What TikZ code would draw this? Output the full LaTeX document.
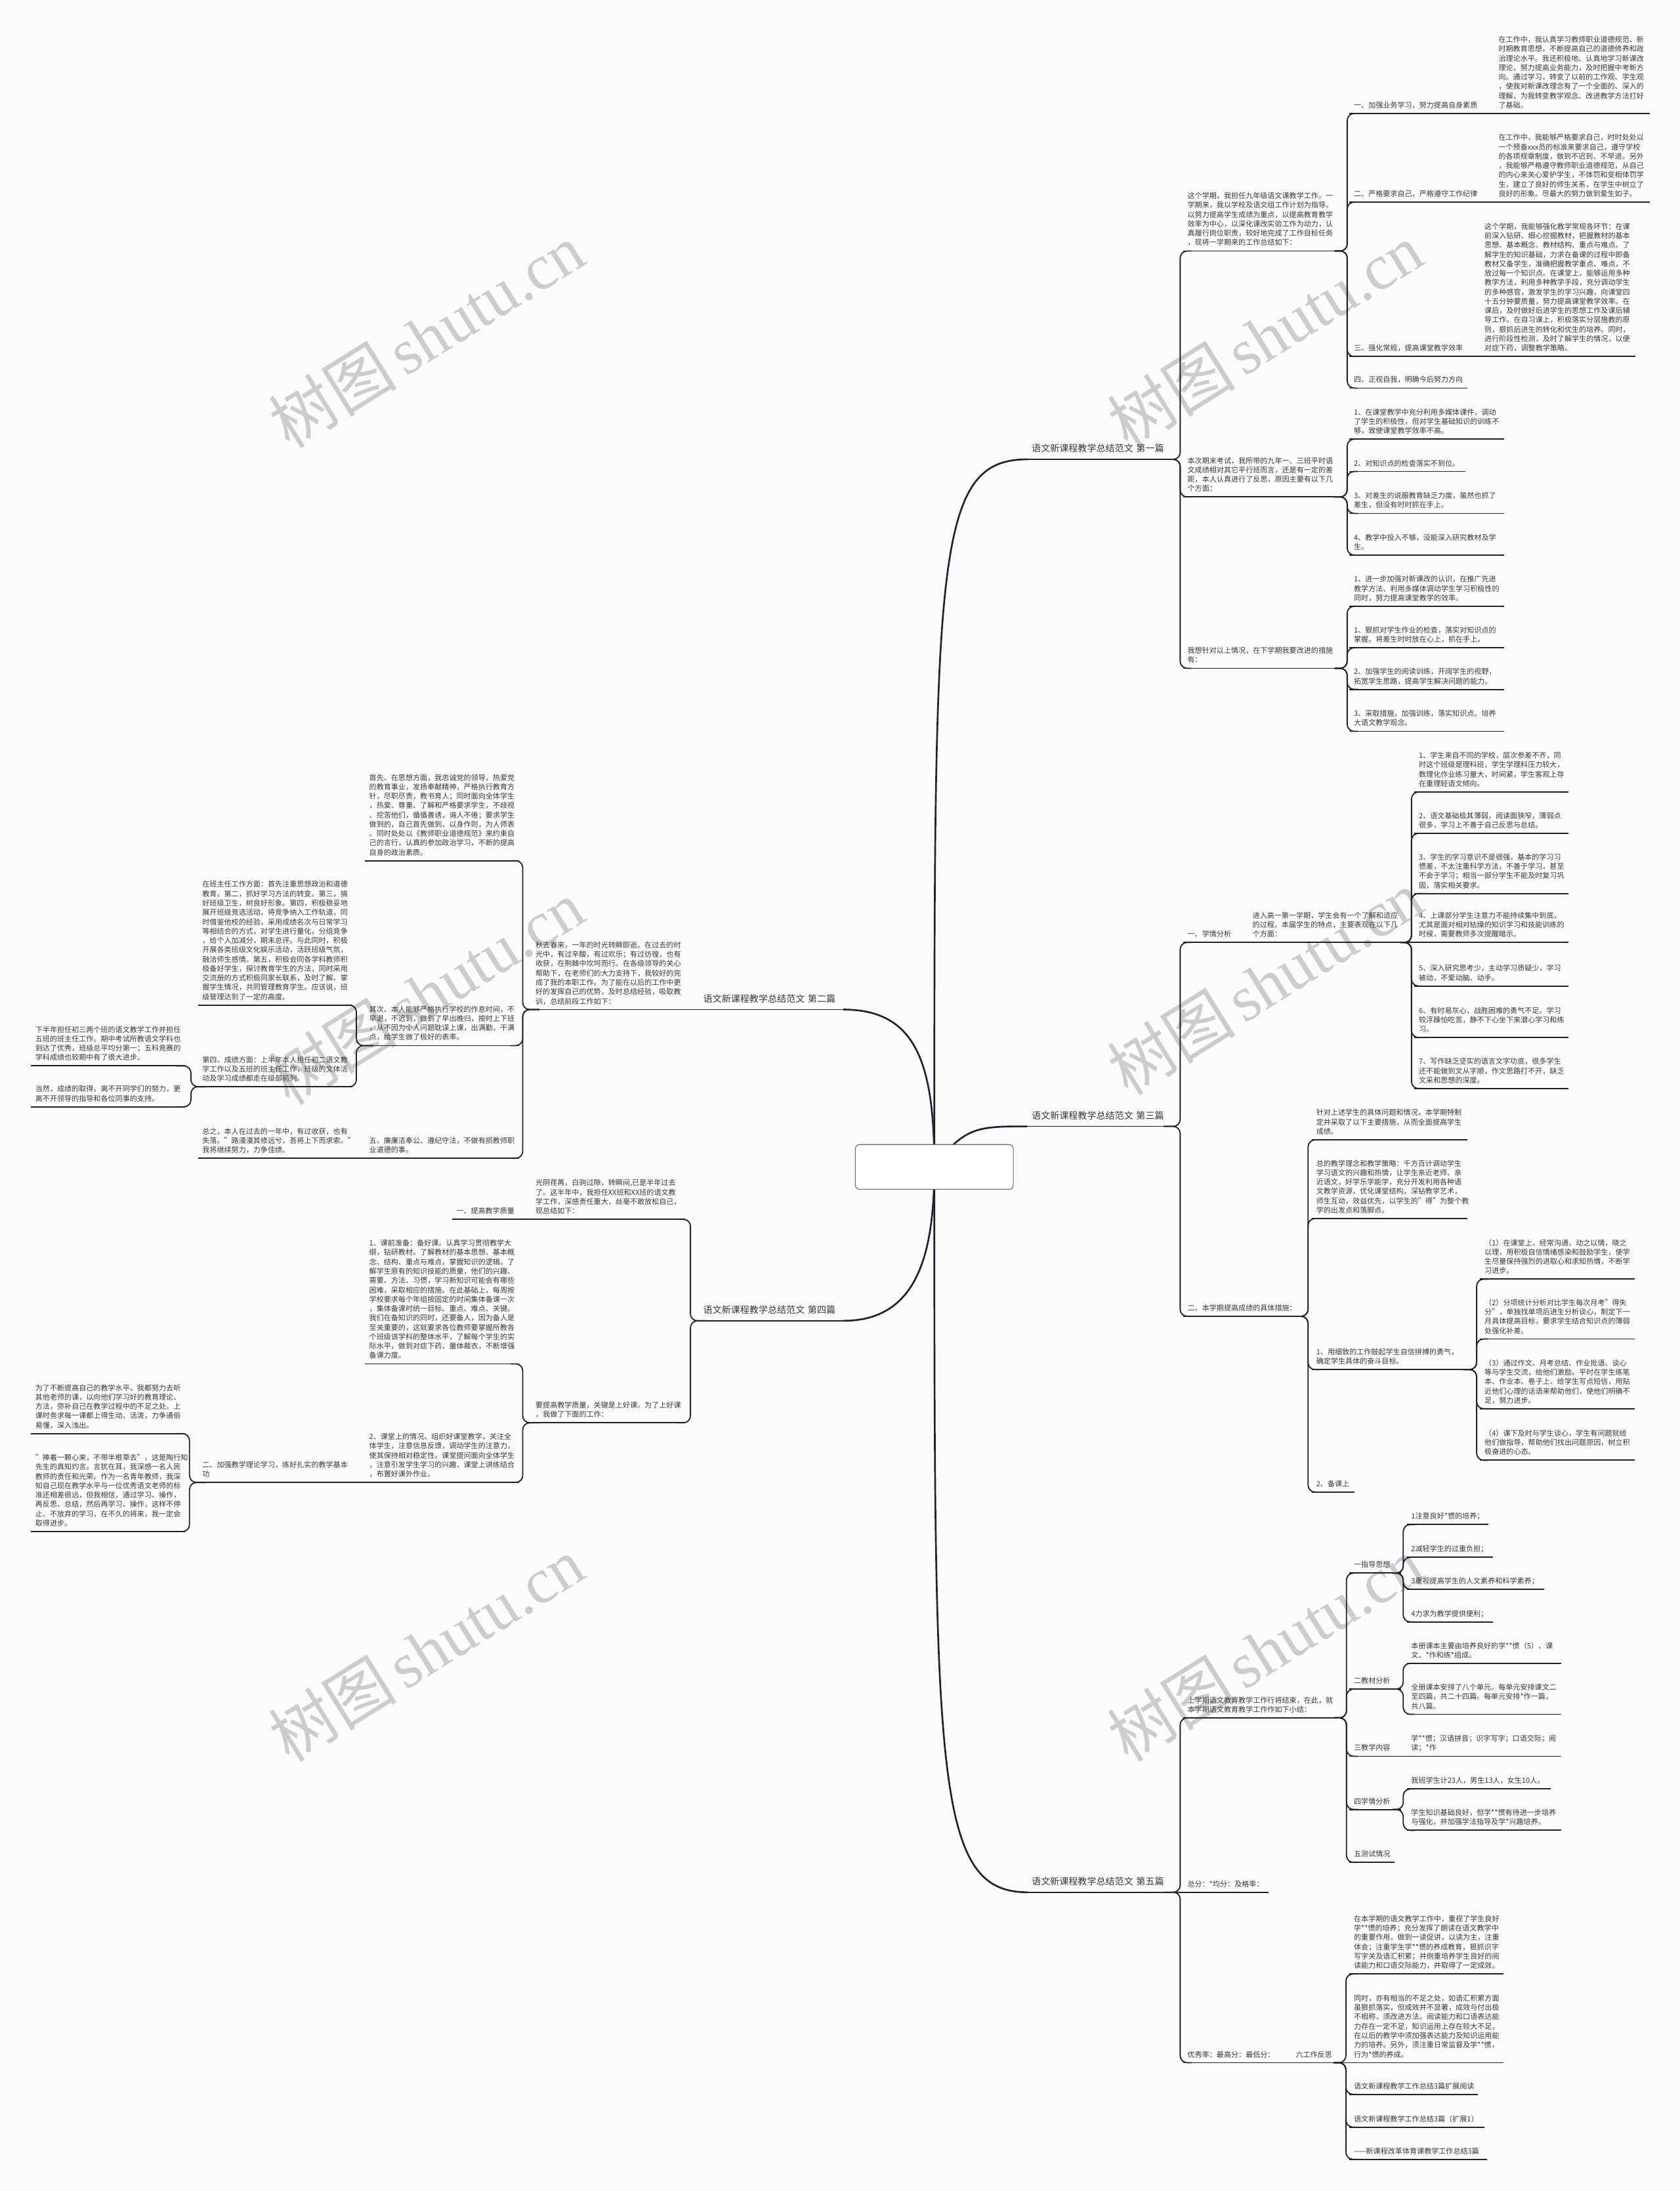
\documentclass[tikz,border=0pt]{standalone}
\usepackage{fontspec}
\setmainfont{Noto Sans CJK SC}
\newfontfamily\wmser{Liberation Serif}
\definecolor{bg}{HTML}{FCFAFA}
\definecolor{lc}{HTML}{1B2230}
\definecolor{tc}{HTML}{383838}
\newcommand\bodyfont{\fontsize{5.2pt}{6.7pt}\selectfont}
\newcommand\lblfont{\fontsize{6.6pt}{7.6pt}\selectfont}
\newcommand\rconn[3]{\draw[conn] ([xshift=-6pt]#1.south east) -- ([xshift=#3]#1.south east) |- ([xshift=6pt]#2.south west);}
\newcommand\lconn[3]{\draw[conn] ([xshift=6pt]#1.south west) -- ([xshift=-#3]#1.south west) |- ([xshift=-6pt]#2.south east);}
\newcommand\rstr[2]{\draw[sline] (#1.south east) -- (#2.south west);}
\newcommand\lstr[2]{\draw[sline] (#1.south west) -- (#2.south east);}
\tikzset{
 conn/.style={draw=lc, line width=0.85pt, rounded corners=5pt},
 sline/.style={draw=lc, line width=0.85pt},
 mconn/.style={draw=lc, line width=1.25pt},
 ulst/.style={draw=lc, line width=0.85pt},
 tx/.style={anchor=south west, inner xsep=3pt, inner ysep=2.5pt, text width=#1 pt, align=left, font=\bodyfont, text=tc,
   execute at end node={\vrule width 0pt depth 1.3pt},
   append after command={(\tikzlastnode.south west) edge[ulst] (\tikzlastnode.south east)}},
 lbl/.style={tx=#1, font=\lblfont, inner ysep=3.8pt},
 wmk/.style={rotate=32, text=black!20, font=\fontsize{46pt}{46pt}\selectfont, inner sep=0pt},
}
\begin{document}
\begin{tikzpicture}[x=1pt,y=-1pt]
\useasboundingbox (0,0) rectangle (1202,1567.8);
\fill[bg] (0,0) rectangle (1202,1567.8);
% watermarks
\foreach \p in {(305,240),(905,240),(305,710),(905,703),(305,1180),(905,1180)}
  \node[wmk] at \p {树图\hspace{6pt}{\wmser shutu.cn}};

% ===== main labels =====
\node[lbl=97] (L1) at (735,328.7) {语文新课程教学总结范文 第一篇};
\node[lbl=97] (L3) at (735,806) {语文新课程教学总结范文 第三篇};
\node[lbl=97] (L5) at (735,1354) {语文新课程教学总结范文 第五篇};
\node[lbl=97] (L2) at (500,722.4) {语文新课程教学总结范文 第二篇};
\node[lbl=97] (L4) at (500,945.1) {语文新课程教学总结范文 第四篇};

% ===== section 1 =====
\node[tx=108] (A) at (846.5,179.6) {这个学期，我担任九年级语文课教学工作。一\\学期来，我以学校及语文组工作计划为指导。\\以努力提高学生成绩为重点，以提高教育教学\\效率为中心，以深化课改实验工作为动力，认\\真履行岗位职责，较好地完成了工作目标任务\\，现将一学期来的工作总结如下：};
\node[tx=108] (B) at (846.5,355.6) {本次期末考试，我所带的九年一、三班平时语\\文成绩相对其它平行班而言，还是有一定的差\\距，本人认真进行了反思，原因主要有以下几\\个方面：};
\node[tx=108] (C) at (846.5,478.2) {我想针对以上情况，在下学期我要改进的措施\\有：};
\node[tx=94] (A1) at (965.5,81.2) {一、加强业务学习，努力提高自身素质};
\node[tx=105] (A1c) at (1069,81.2) {在工作中，我认真学习教师职业道德规范、新\\时期教育思想，不断提高自己的道德修养和政\\治理论水平。我还积极地、认真地学习新课改\\理论，努力提高业务能力，及时把握中考新方\\向。通过学习，转变了以前的工作观、学生观\\，使我对新课改理念有了一个全面的、深入的\\理解，为我转变教学观念、改进教学方法打好\\了基础。};
\node[tx=94] (A2) at (965.5,144.6) {二、严格要求自己，严格遵守工作纪律};
\node[tx=105] (A2c) at (1069,144.6) {在工作中，我能够严格要求自己，时时处处以\\一个预备xxx员的标准来要求自己，遵守学校\\的各项规章制度，做到不迟到、不早退。另外\\，我能够严格遵守教师职业道德规范，从自己\\的内心来关心爱护学生，不体罚和变相体罚学\\生，建立了良好的师生关系，在学生中树立了\\良好的形象。尽最大的努力做到爱生如子。};
\node[tx=84] (A3) at (965.5,255.1) {三、强化常规，提高课堂教学效率};
\node[tx=104.5] (A3c) at (1059,255.1) {这个学期，我能够强化教学常规各环节：在课\\前深入钻研、细心挖掘教材，把握教材的基本\\思想、基本概念、教材结构、重点与难点。了\\解学生的知识基础，力求在备课的过程中即备\\教材又备学生，准确把握教学重点、难点，不\\放过每一个知识点。在课堂上，能够运用多种\\教学方法，利用多种教学手段，充分调动学生\\的多种感官，激发学生的学习兴趣，向课堂四\\十五分钟要质量，努力提高课堂教学效率。在\\课后，及时做好后进学生的思想工作及课后辅\\导工作。在自习课上，积极落实分层施教的原\\则，狠抓后进生的转化和优生的培养。同时，\\进行阶段性检测，及时了解学生的情况，以便\\对症下药，调整教学策略。};
\node[tx=78] (A4) at (965.5,277.7) {四、正视自我，明确今后努力方向};
\node[tx=104.5] (B1) at (965.5,314.2) {1、在课堂教学中充分利用多媒体课件，调动\\了学生的积极性，但对学生基础知识的训练不\\够，致使课堂教学效率不高。};
\node[tx=76.5] (B2) at (965.5,337.4) {2、对知识点的检查落实不到位。};
\node[tx=104.5] (B3) at (965.5,367.4) {3、对差生的说服教育缺乏力度，虽然也抓了\\差生，但没有时时抓在手上。};
\node[tx=104.5] (B4) at (965.5,397.2) {4、教学中投入不够，没能深入研究教材及学\\生。};
\node[tx=104.5] (C1) at (965.5,433.8) {1、进一步加强对新课改的认识，在推广先进\\教学方法、利用多媒体调动学生学习积极性的\\同时，努力提高课堂教学的效率。};
\node[tx=104.5] (C2) at (965.5,463.5) {1、狠抓对学生作业的检查，落实对知识点的\\掌握。将差生时时放在心上，抓在手上。};
\node[tx=104.5] (C3) at (965.5,493.3) {2、加强学生的阅读训练，开阔学生的视野，\\拓宽学生思路，提高学生解决问题的能力。};
\node[tx=104.5] (C4) at (965.5,523.3) {3、采取措施，加强训练，落实知识点。培养\\大语文教学观念。};

% ===== section 3 =====
\node[tx=37.5] (S3a) at (846.5,674.4) {一、学情分析};
\node[tx=108.5] (S3ac) at (893,674.4) {进入高一第一学期，学生会有一个了解和适应\\的过程，本届学生的特点，主要表现在以下几\\个方面：};
\node[tx=104] (I1) at (1012,566.7) {1、学生来自不同的学校，层次参差不齐，同\\时这个班级是理科班，学生学理科压力较大，\\数理化作业练习量大，时间紧，学生客观上存\\在重理轻语文倾向。};
\node[tx=104] (I2) at (1012,596.3) {2、语文基础极其薄弱，阅读面狭窄，薄弱点\\很多，学习上不善于自己反思与总结。};
\node[tx=104] (I3) at (1012,639.4) {3、学生的学习意识不是很强，基本的学习习\\惯差，不太注重科学方法，不善于学习，甚至\\不会于学习；相当一部分学生不能及时复习巩\\固，落实相关要求。};
\node[tx=104] (I4) at (1012,674.4) {4、上课部分学生注意力不能持续集中到底，\\尤其是面对相对枯燥的知识学习和技能训练的\\时候，需要教师多次提醒暗示。};
\node[tx=104] (I5) at (1012,705.6) {5、深入研究思考少，主动学习质疑少，学习\\被动，不爱动脑、动手。};
\node[tx=104] (I6) at (1012,742.4) {6、有时易灰心，战胜困难的勇气不足。学习\\较浮躁怕吃苦，静不下心坐下来潜心学习和练\\习。};
\node[tx=104] (I7) at (1012,778.9) {7、写作缺乏坚实的语言文字功底，很多学生\\还不能做到文从字顺，作文思路打不开，缺乏\\文采和思想的深度。};
\node[tx=80] (S3b) at (846.5,941.9) {二、本学期提高成绩的具体措施：};
\node[tx=105] (S3b1) at (938.6,815.6) {针对上述学生的具体问题和情况，本学期特制\\定并采取了以下主要措施，从而全面提高学生\\成绩。};
\node[tx=105] (S3b2) at (938.6,871.9) {总的教学理念和教学策略：千方百计调动学生\\学习语文的兴趣和热情，让学生亲近老师、亲\\近语文，好学乐学能学，充分开发利用各种语\\文教学资源，优化课堂结构，深钻教学艺术，\\师生互动，效益优先，以学生的"得"为整个教\\学的出发点和落脚点。};
\node[tx=108] (S3b3) at (938.6,980) {1、用细致的工作鼓起学生自信拼搏的勇气，\\确定学生具体的奋斗目标。};
\node[tx=24.3] (S3b4) at (938.6,1067.7) {2、备课上};
\node[tx=104] (P1) at (1059,915.3) {（1）在课堂上，经常沟通，动之以情，晓之\\以理，用积极自信情绪感染和鼓励学生，使学\\生尽量保持强烈的进取心和求知热情，不断学\\习进步。};
\node[tx=104] (P2) at (1059,958.1) {（2）分项统计分析对比学生每次月考"得失\\分"，单独找单项后进生分析谈心，制定下一\\月具体提高目标，要求学生结合知识点的薄弱\\处强化补差。};
\node[tx=104] (P3) at (1059,1008) {（3）通过作文、月考总结、作业批语、谈心\\等与学生交流，给他们激励。平时在学生练笔\\本、作业本、卷子上、给学生写点短信，用贴\\近他们心理的话语来帮助他们，使他们明确不\\足，努力进步。};
\node[tx=104] (P4) at (1059,1044.9) {（4）课下及时与学生谈心，学生有问题就给\\他们做指导，帮助他们找出问题原因，树立积\\极奋进的心态。};

% ===== section 5 =====
\node[tx=108] (S5a) at (846.5,1229.2) {上学期语文教育教学工作行将结束，在此，就\\本学期语文教育教学工作作如下小结：};
\node[tx=30.6] (G1) at (965.5,1125.6) {一指导思想};
\node[tx=52.2] (G1a) at (1006.5,1090.9) {1注意良好*惯的培养；};
\node[tx=55.3] (G1b) at (1006.5,1114.3) {2减轻学生的过重负担；};
\node[tx=91.9] (G1c) at (1006.5,1137.2) {3重视提高学生的人文素养和科学素养；};
\node[tx=55.3] (G1d) at (1006.5,1160.6) {4力求为教学提供便利；};
\node[tx=30.6] (G2) at (965.5,1208.6) {二教材分析};
\node[tx=104.3] (G2a) at (1006.5,1190.2) {本册课本主要由培养良好的学**惯（5）、课\\文、*作和练*组成。};
\node[tx=104.3] (G2b) at (1006.5,1226.7) {全册课本安排了八个单元。每单元安排课文二\\至四篇，共二十四篇。每单元安排*作一篇，\\共八篇。};
\node[tx=30.6] (G3) at (965.5,1256.7) {三教学内容};
\node[tx=104.3] (G3a) at (1006.5,1256.7) {学**惯；汉语拼音；识字写字；口语交际；阅\\读；*作};
\node[tx=30.6] (G4) at (965.5,1294.8) {四学情分析};
\node[tx=96.6] (G4a) at (1006.5,1280.1) {我班学生计23人，男生13人，女生10人。};
\node[tx=104.3] (G4b) at (1006.5,1309.7) {学生知识基础良好，但学**惯有待进一步培养\\与强化，并加强学法指导及学*兴趣培养。};
\node[tx=26] (G5) at (965.5,1332.7) {五测试情况};
\node[tx=54.6] (S5b) at (846.5,1354) {总分：*均分：及格率：};
\node[tx=62] (S5c) at (846.5,1476) {优秀率：最高分：最低分：};
\node[tx=29.7] (S5d) at (923.9,1476) {六工作反思};
\node[tx=103.7] (H1) at (965.5,1412.5) {在本学期的语文教学工作中，重视了学生良好\\学**惯的培养；充分发挥了朗读在语文教学中\\的重要作用，做到一读促讲，以读为主，注重\\体会；注重学生学**惯的养成教育，狠抓识字\\写字关及语汇积累；并侧重培养学生良好的阅\\读能力和口语交际能力，并取得了一定成效。};
\node[tx=103.7] (H2) at (965.5,1476) {同时，亦有相当的不足之处，如语汇积累方面\\虽狠抓落实，但成效并不显著，成效与付出极\\不相称，须改进方法。阅读能力和口语表达能\\力存在一定不足，知识运用上存在较大不足，\\在以后的教学中须加强表达能力及知识运用能\\力的培养。另外，须注重日常监督及学**惯，\\行为*惯的养成。};
\node[tx=85.7] (H3) at (965.5,1498.6) {语文新课程教学工作总结3篇扩展阅读};
\node[tx=90] (H4) at (965.5,1522.1) {语文新课程教学工作总结3篇（扩展1）};
\node[tx=92] (H5) at (965.5,1545.1) {——新课程改革体育课教学工作总结3篇};

% ===== section 2 (left) =====
\node[tx=104] (Q) at (380,722.4) {秋去春来，一年的时光转瞬即逝。在过去的时\\光中，有过辛酸，有过欢乐；有过彷徨，也有\\收获，在荆棘中坎坷而行。在各级领导的关心\\帮助下，在老师们的大力支持下，我较好的完\\成了我的本职工作。为了能在以后的工作中更\\好的发挥自己的优势，及时总结经验，吸取教\\训，总结前段工作如下：};
\node[tx=104] (F) at (261,615.9) {首先、在思想方面，我忠诚党的领导，热爱党\\的教育事业，发扬奉献精神，严格执行教育方\\针，尽职尽责，教书育人；同时面向全体学生\\，热爱、尊重、了解和严格要求学生，不歧视\\、挖苦他们，循循善诱，诲人不倦；要求学生\\做到的，自己首先做到，以身作则，为人师表\\。同时处处以《教师职业道德规范》来约束自\\己的言行，认真的参加政治学习，不断的提高\\自身的政治素质。};
\node[tx=104] (Gq) at (261,748.2) {其次、本人能够严格执行学校的作息时间，不\\早退，不迟到，做到了早出晚归，按时上下班\\，从不因为个人问题耽误上课，出满勤，干满\\点，给学生做了极好的表率。};
\node[tx=104] (Hq) at (261,828.8) {五、廉廉洁奉公、遵纪守法，不做有损教师职\\业道德的事。};
\node[tx=104] (K) at (141.6,719.2) {在班主任工作方面：首先注重思想政治和道德\\教育。第二，抓好学习方法的转变。第三，搞\\好班级卫生，树良好形象。第四，积极稳妥地\\展开班级竞选活动，将竞争纳入工作轨道，同\\时借鉴他校的经验，采用成绩名次与日常学习\\等相结合的方式，对学生进行量化，分组竞争\\，给个人加减分，期末总评。与此同时，积极\\开展各类班级文化娱乐活动，活跃班级气氛，\\融洽师生感情。第五，积极会同各学科教师积\\极备好学生，探讨教育学生的方法，同时采用\\交流册的方式积极同家长联系，及时了解、掌\\握学生情况，共同管理教育学生。应该说，班\\级管理达到了一定的高度。};
\node[tx=104] (M) at (141.6,777.6) {第四、成绩方面：上半年本人担任初二语文教\\学工作以及五班的班主任工作，班级的文体活\\动及学习成绩都走在级部前列。};
\node[tx=104] (N1) at (22.1,762.7) {下半年担任初三两个班的语文教学工作并担任\\五班的班主任工作。期中考试所教语文学科也\\到达了优秀，班级总平均分第一；五科竞赛的\\学科成绩也较期中有了很大进步。};
\node[tx=104] (N2) at (22.1,792) {当然，成绩的取得，离不开同学们的努力，更\\离不开领导的指导和各位同事的支持。};
\node[tx=104] (Pz) at (141.6,828.8) {总之，本人在过去的一年中，有过收获，也有\\失落。"路漫漫其修远兮，吾将上下而求索。"\\我将继续努力，力争佳绩。};

% ===== section 4 (left) =====
\node[tx=104] (R) at (380,872.5) {光阴荏苒，白驹过隙，转瞬间,已是半年过去\\了。这半年中，我担任XX班和XX班的语文教\\学工作，深感责任重大，丝毫不敢放松自己，\\现总结如下：};
\node[tx=42] (T) at (323.3,872.5) {一、提高教学质量};
\node[tx=104] (S) at (380,1018.1) {要提高教学质量，关键是上好课。为了上好课\\，我做了下面的工作：};
\node[tx=104] (U) at (261,975.9) {1、课前准备：备好课。认真学习贯彻教学大\\纲，钻研教材。了解教材的基本思想、基本概\\念、结构、重点与难点，掌握知识的逻辑。了\\解学生原有的知识技能的质量，他们的兴趣、\\需要、方法、习惯，学习新知识可能会有哪些\\困难，采取相应的措施。在此基础上，每周按\\学校要求每个年组按固定的时间集体备课一次\\，集体备课时统一目标、重点、难点、关键。\\我们在备知识的同时，还要备人，因为备人是\\至关重要的，这就要求各位教师要掌握所教各\\个班级该学科的整体水平，了解每个学生的实\\际水平，做到对症下药，量体裁衣，不断增强\\备课力度。};
\node[tx=104] (V) at (261,1060.8) {2、课堂上的情况。组织好课堂教学，关注全\\体学生，注意信息反馈，调动学生的注意力，\\使其保持相对稳定性。课堂提问面向全体学生\\，注意引发学生学习的兴趣，课堂上讲练结合\\，布置好课外作业。};
\node[tx=104] (W) at (141.6,1060.8) {二、加强教学理论学习，练好扎实的教学基本\\功};
\node[tx=104] (X1) at (22.1,1025.8) {为了不断提高自己的教学水平，我都努力去听\\其他老师的课，以向他们学习好的教育理论、\\方法，弥补自己在教学过程中的不足之处。上\\课时务求每一课都上得生动、活泼，力争通俗\\易懂，深入浅出。};
\node[tx=104] (X2) at (22.1,1095.9) {"捧着一颗心来，不带半根草去"，这是陶行知\\先生的真知灼言。言犹在耳，我深感一名人民\\教师的责任和光荣。作为一名青年教师，我深\\知自己现在教学水平与一位优秀语文老师的标\\准还相差很远，但我相信，通过学习、操作，\\再反思、总结，然后再学习、操作，这样不停\\止、不放弃的学习，在不久的将来，我一定会\\取得进步。};

% ===== connectors =====
\foreach \c in {A,B,C} {\rconn{L1}{\c}{6pt}}
\foreach \c in {A1,A2,A3,A4} {\rconn{A}{\c}{3pt}}
\rstr{A1}{A1c} \rstr{A2}{A2c} \rstr{A3}{A3c}
\foreach \c in {B1,B2,B3,B4} {\rconn{B}{\c}{3pt}}
\foreach \c in {C1,C2,C3,C4} {\rconn{C}{\c}{3pt}}
\foreach \c in {S3a,S3b} {\rconn{L3}{\c}{6pt}}
\rstr{S3a}{S3ac}
\foreach \c in {I1,I2,I3,I5,I6,I7} {\rconn{S3ac}{\c}{2pt}}
\rstr{S3ac}{I4}
\foreach \c in {S3b1,S3b2,S3b3,S3b4} {\rconn{S3b}{\c}{3pt}}
\foreach \c in {P1,P2,P3,P4} {\rconn{S3b3}{\c}{3.5pt}}
\foreach \c in {S5a,S5c} {\rconn{L5}{\c}{6pt}}
\rstr{L5}{S5b}
\foreach \c in {G1,G2,G3,G4,G5} {\rconn{S5a}{\c}{2.5pt}}
\foreach \c in {G1a,G1b,G1c,G1d} {\rconn{G1}{\c}{1.5pt}}
\foreach \c in {G2a,G2b} {\rconn{G2}{\c}{1.5pt}}
\rstr{G3}{G3a}
\foreach \c in {G4a,G4b} {\rconn{G4}{\c}{1.5pt}}
\rstr{S5c}{S5d}
\foreach \c in {H1,H3,H4,H5} {\rconn{S5d}{\c}{3pt}}
\rstr{S5d}{H2}
% left side
\lstr{L2}{Q}
\foreach \c in {F,Gq,Hq} {\lconn{Q}{\c}{6pt}}
\foreach \c in {K,M} {\lconn{Gq}{\c}{6pt}}
\foreach \c in {N1,N2} {\lconn{M}{\c}{5pt}}
\lstr{Hq}{Pz}
\foreach \c in {R,S} {\lconn{L4}{\c}{6pt}}
\lstr{R}{T}
\foreach \c in {U,V} {\lconn{S}{\c}{6pt}}
\lstr{V}{W}
\foreach \c in {X1,X2} {\lconn{W}{\c}{6pt}}

% ===== root =====
\coordinate (rootc) at (668.5,835);
\draw[mconn] (rootc) .. controls (668.5,400) and (668.5,328.7) .. (L1.south west);
\draw[mconn] (rootc) .. controls (690,806) and (700,806) .. (L3.south west);
\draw[mconn] (rootc) .. controls (668.5,1270) and (668.5,1354) .. (L5.south west);
\draw[mconn] (rootc) .. controls (668.5,760) and (655,722.4) .. (L2.south east);
\draw[mconn] (rootc) .. controls (668.5,900) and (655,945.1) .. (L4.south east);
\node[draw=black!60, line width=0.5pt, fill=white, rounded corners=3pt, minimum width=113pt, minimum height=32pt, inner sep=0pt] (root) at (rootc) {};
\end{tikzpicture}
\end{document}
